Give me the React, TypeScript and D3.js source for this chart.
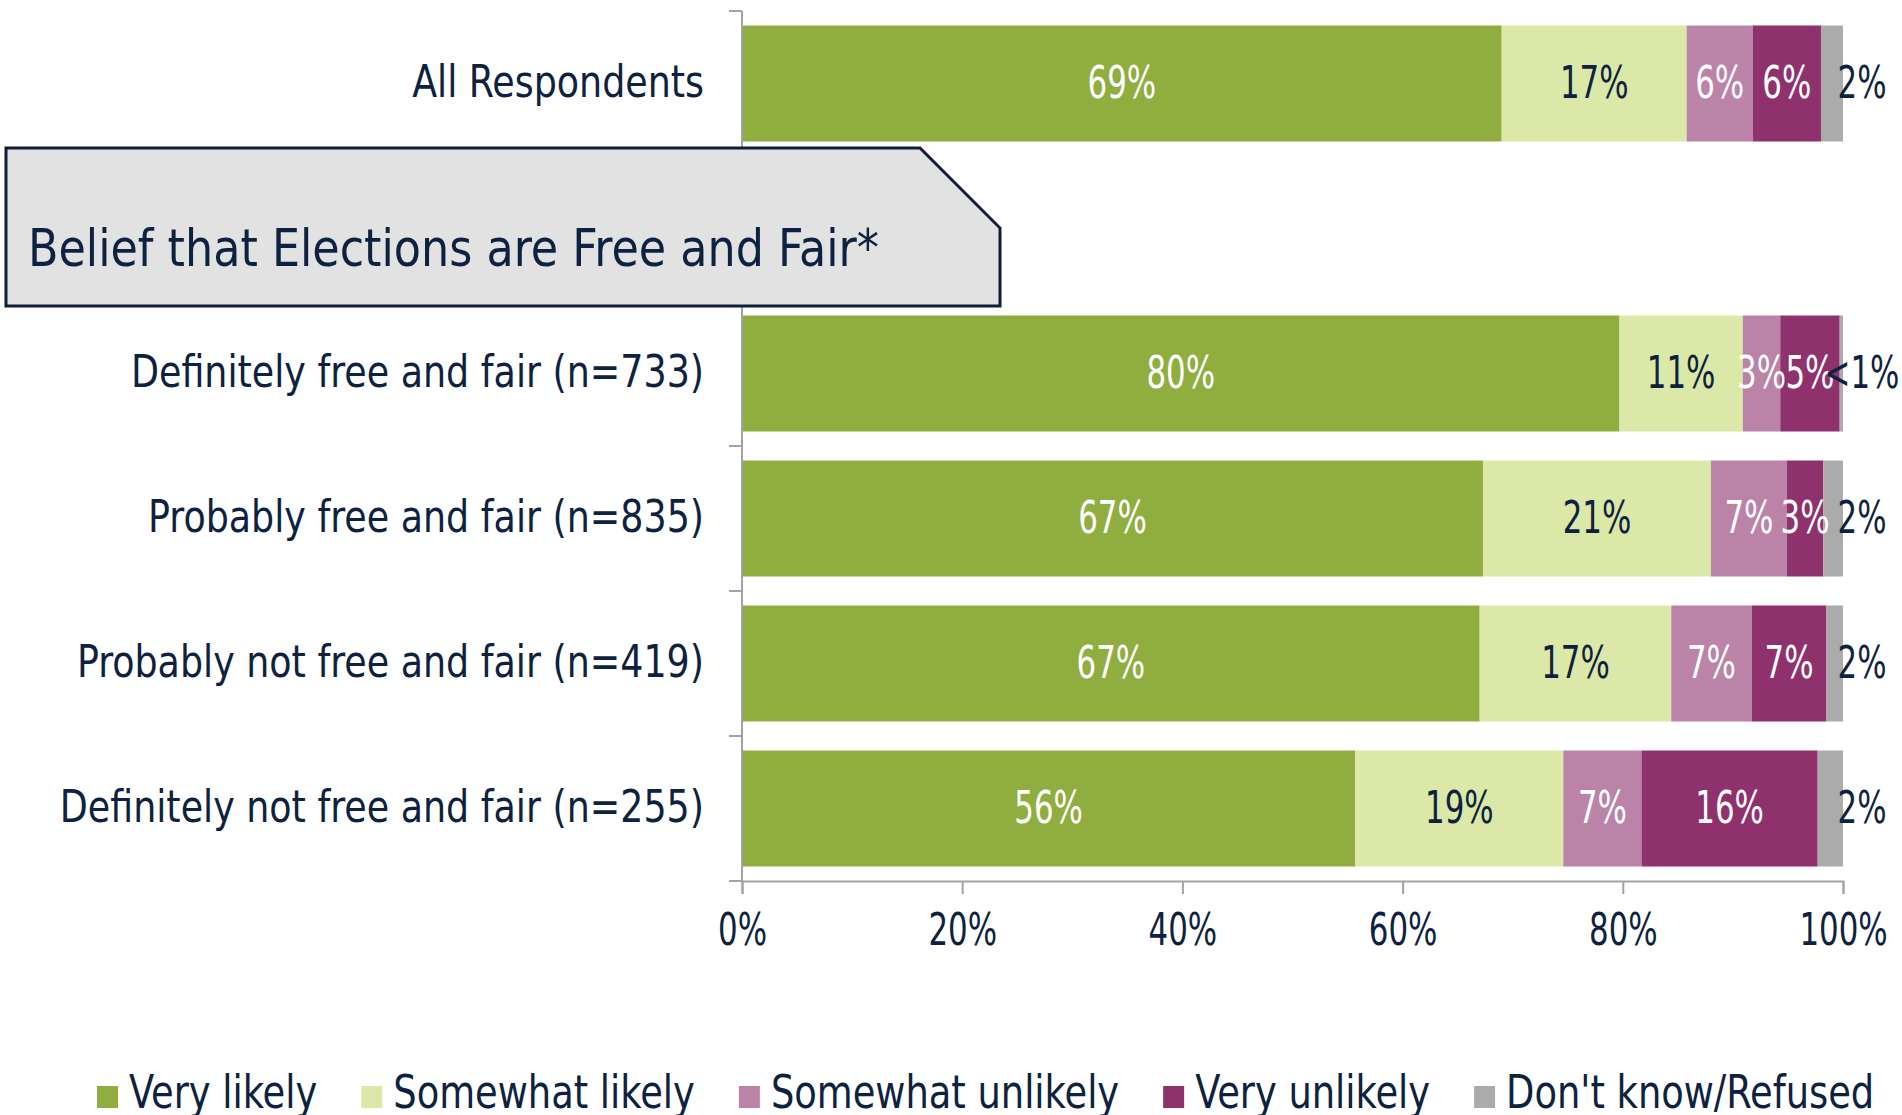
import React, { useEffect, useRef } from 'react';
import * as d3 from 'd3';

// rows, top to bottom ("" is the empty slot behind the group title box)
const categories = [
  'All Respondents',
  '',
  'Definitely free and fair (n=733)',
  'Probably free and fair (n=835)',
  'Probably not free and fair (n=419)',
  'Definitely not free and fair (n=255)',
];

const seriesNames = ['Very likely', 'Somewhat likely', 'Somewhat unlikely', 'Very unlikely', "Don't know/Refused"];

// one array per row, in series order
const allRespondents = [69.0, 16.8, 6.0, 6.2, 2.0];
const definitelyFree = [79.7, 11.2, 3.4, 5.4, 0.3];
const probablyFree = [67.3, 20.7, 6.9, 3.3, 1.8];
const probablyNotFree = [67.0, 17.4, 7.3, 6.8, 1.5];
const definitelyNotFree = [55.7, 18.9, 7.1, 16.0, 2.3];

const rowValues = [allRespondents, null, definitelyFree, probablyFree, probablyNotFree, definitelyNotFree];

const xTicks = [0, 20, 40, 60, 80, 100];

const groupTitle = 'Belief that Elections are Free and Fair*';

const colors = ['#8fae3f', '#dce8a8', '#bb83a8', '#8e316d', '#ababab'];
const labelColors = ['#ffffff', '#0d2240', '#ffffff', '#ffffff', '#0d2240'];

const FONT = "'DejaVu Sans Condensed', 'DejaVu Sans', sans-serif";
const NAVY = '#0d2240';

type Sel = d3.Selection<any, unknown, null, undefined>;

// text squeezed horizontally to match the narrow face of the original
const addText = (g: Sel, x: number, y: number, str: string, size: number, sx: number, anchor = 'start', fill = NAVY) =>
  g.append('text')
    .attr('transform', `translate(${x},${y}) scale(${sx},1)`)
    .attr('text-anchor', anchor)
    .attr('fill', fill)
    .attr('font-family', FONT)
    .attr('font-size', size)
    .text(str);

const App = () => {
  const svgRef = useRef<SVGSVGElement>(null);

  useEffect(() => {
    const width = 1902;
    const height = 1115;
    const svg = d3.select(svgRef.current);
    svg.selectAll('*').remove();
    svg.attr('width', width).attr('height', height);

    const x = d3.scaleLinear().domain([0, 100]).range([742, 1843]);
    const y = d3.scaleBand<string>()
      .domain(categories.map((c, i) => c || `gap${i}`))
      .range([11, 881])
      .paddingInner(0.2)
      .paddingOuter(0.1);
    const rowKey = (i: number) => categories[i] || `gap${i}`;

    // bars
    rowValues.forEach((vals, i) => {
      if (!vals) return;
      const stack = d3.cumsum(vals);
      const g = svg.append('g');
      const y0 = y(rowKey(i))!;
      const bw = y.bandwidth();
      vals.forEach((v, k) => {
        const start = k === 0 ? 0 : stack[k - 1];
        g.append('rect')
          .attr('x', x(start))
          .attr('y', y0)
          .attr('width', x(start + v) - x(start))
          .attr('height', bw)
          .attr('fill', colors[k]);
      });
      vals.forEach((v, k) => {
        const start = k === 0 ? 0 : stack[k - 1];
        const label = v < 1 ? '<1%' : `${Math.round(v)}%`;
        const last = k === vals.length - 1;
        addText(g, last ? x(100) + 19 : x(start + v / 2), y0 + bw / 2 + 14, label, 44, 0.78, 'middle', labelColors[k]);
      });
    });

    // left axis
    const axisColor = '#a3a3a3';
    svg.append('line')
      .attr('x1', x(0)).attr('x2', x(0))
      .attr('y1', y.range()[0]).attr('y2', y.range()[1])
      .attr('stroke', axisColor).attr('stroke-width', 2);
    const step = y.step();
    d3.range(categories.length + 1).forEach(i => {
      const ty = y.range()[0] + i * step;
      svg.append('line')
        .attr('x1', x(0) - 13).attr('x2', x(0))
        .attr('y1', ty).attr('y2', ty)
        .attr('stroke', axisColor).attr('stroke-width', 2);
    });

    // category labels
    categories.forEach((c, i) => {
      if (!c) return;
      addText(svg, 704, y(rowKey(i))! + y.bandwidth() / 2 + 13, c, 44, 0.92, 'end');
    });

    // bottom axis
    const xAxis = svg.append('g')
      .attr('transform', `translate(0,${y.range()[1]})`)
      .call(d3.axisBottom(x).tickValues(xTicks).tickSize(13).tickPadding(20).tickFormat(d => `${d}%`));
    xAxis.select('.domain').attr('stroke', axisColor).attr('stroke-width', 2);
    xAxis.selectAll('.tick line').attr('stroke', axisColor).attr('stroke-width', 2);
    xAxis.selectAll('.tick text')
      .attr('transform', 'scale(0.78,1)')
      .attr('fill', NAVY)
      .attr('font-family', FONT)
      .attr('font-size', 44);

    // group title box with clipped corner
    const box = { x0: 6, y0: 148, x1: 1000, y1: 306, cut: 80 };
    svg.append('path')
      .attr('d', `M${box.x0},${box.y0}H${box.x1 - box.cut}L${box.x1},${box.y0 + box.cut}V${box.y1}H${box.x0}Z`)
      .attr('fill', '#e2e2e2')
      .attr('stroke', '#0f1f38')
      .attr('stroke-width', 3);
    addText(svg, 28, 266, groupTitle, 52, 0.95);

    // legend
    let lx = 97;
    const ly = 1108;
    const lsx = 0.89;
    seriesNames.forEach((name, k) => {
      svg.append('rect')
        .attr('x', lx).attr('y', ly - 22)
        .attr('width', 21).attr('height', 22)
        .attr('fill', colors[k]);
      const t = addText(svg, lx + 32, ly, name, 46, lsx);
      const w = (t.node() as SVGTextElement).getComputedTextLength() * lsx;
      lx += 32 + w + 44;
    });
  }, []);

  return (
    <div style={{ position: 'absolute', left: 0, top: 0 }}>
      <svg ref={svgRef} style={{ display: 'block' }}></svg>
    </div>
  );
};

export default App;
